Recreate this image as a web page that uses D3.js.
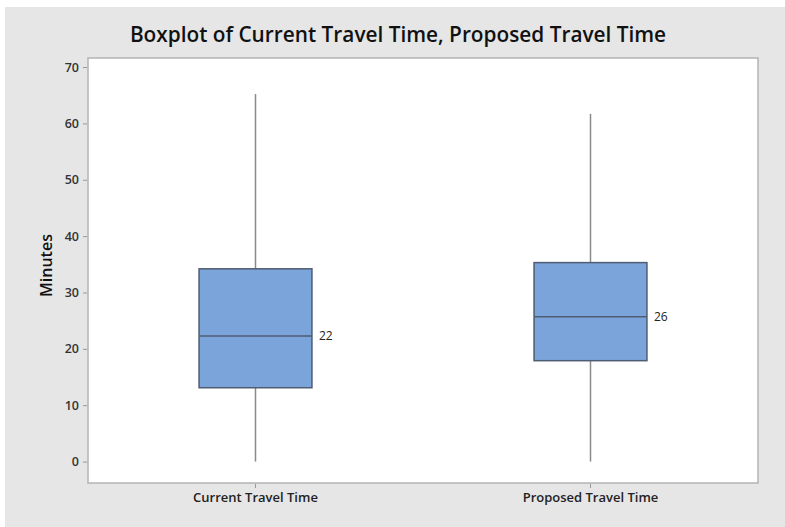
<!DOCTYPE html>
<html><head><meta charset="utf-8">
<script src="https://cdn.jsdelivr.net/npm/d3@7"></script>
<style>body{margin:0;background:#fff}svg{display:block}</style>
</head><body>
<svg id="c" width="785" height="527"></svg>
<script>
const categories = ["Current Travel Time", "Proposed Travel Time"];
const whiskerLow = [0, 0];
const q1 = [13.1, 17.9];
const medians = [22.3, 25.7];
const q3 = [34.2, 35.3];
const whiskerHigh = [65.2, 61.7];
const medianLabels = ["22", "26"];
const yTicks = [0, 10, 20, 30, 40, 50, 60, 70];

const svg = d3.select("#c");
const W = 785, H = 527;
const plot = {l: 88, r: 758, t: 58, b: 483};

svg.append("rect").attr("x", 5).attr("y", 7).attr("width", W - 5).attr("height", H - 7).attr("fill", "#e6e6e6");
svg.append("rect").attr("x", plot.l).attr("y", plot.t).attr("width", plot.r - plot.l).attr("height", plot.b - plot.t)
  .attr("fill", "#fff").attr("stroke", "#b4b4b4").attr("stroke-width", 1.5);

const x = d3.scaleBand().domain(categories).range([plot.l, plot.r]);
const y = d3.scaleLinear().domain([-3.8, 71.6]).range([plot.b, plot.t]);
const boxW = x.step() * 0.337;

// axes
const yAxis = d3.axisLeft(y).tickValues(yTicks).tickSize(4).tickPadding(4);
const gy = svg.append("g").attr("transform", `translate(${plot.l - 1},0)`).call(yAxis);
gy.select(".domain").remove();
gy.selectAll(".tick line").attr("stroke", "#999");
gy.selectAll("text").attr("font-family", "Open Sans, sans-serif").attr("font-size", 12.5).attr("font-weight", 600).attr("fill", "#333");

const xAxis = d3.axisBottom(x).tickSize(4).tickPadding(5);
const gx = svg.append("g").attr("transform", `translate(0,${plot.b + 1})`).call(xAxis);
gx.select(".domain").remove();
gx.selectAll(".tick line").attr("stroke", "#999");
gx.selectAll("text").attr("font-family", "Open Sans, sans-serif").attr("font-size", 13).attr("font-weight", 600).attr("fill", "#222");

// boxes
const data = categories.map((c, i) => ({c, lo: whiskerLow[i], q1: q1[i], med: medians[i], q3: q3[i], hi: whiskerHigh[i], lab: medianLabels[i]}));
const g = svg.append("g").selectAll("g").data(data).join("g");
const cx = d => x(d.c) + x.bandwidth() / 2;
g.append("line").attr("x1", cx).attr("x2", cx).attr("y1", d => y(d.q3)).attr("y2", d => y(d.hi)).attr("stroke", "#8a8a8a").attr("stroke-width", 1.5);
g.append("line").attr("x1", cx).attr("x2", cx).attr("y1", d => y(d.lo)).attr("y2", d => y(d.q1)).attr("stroke", "#8a8a8a").attr("stroke-width", 1.5);
g.append("rect").attr("x", d => cx(d) - boxW / 2).attr("width", boxW)
  .attr("y", d => y(d.q3)).attr("height", d => y(d.q1) - y(d.q3))
  .attr("fill", "#7ba4db").attr("stroke", "#4f5d72").attr("stroke-width", 1.5);
g.append("line").attr("x1", d => cx(d) - boxW / 2).attr("x2", d => cx(d) + boxW / 2)
  .attr("y1", d => y(d.med)).attr("y2", d => y(d.med)).attr("stroke", "#4f5d72").attr("stroke-width", 1.5);
g.append("text").attr("x", d => cx(d) + boxW / 2 + 7).attr("y", d => y(d.med) + 4)
  .attr("font-family", "Open Sans, sans-serif").attr("font-size", 12).attr("fill", "#222").text(d => d.lab);

// title
svg.append("text").attr("x", 398).attr("y", 42).attr("text-anchor", "middle")
  .attr("font-family", "Open Sans, sans-serif").attr("font-size", 20.8).attr("font-weight", 600).attr("fill", "#111")
  .text("Boxplot of Current Travel Time, Proposed Travel Time");
svg.append("text").attr("transform", `translate(52,${(plot.t + plot.b) / 2 - 5}) rotate(-90)`).attr("text-anchor", "middle")
  .attr("font-family", "Open Sans, sans-serif").attr("font-size", 16).attr("font-weight", 600).attr("fill", "#111")
  .text("Minutes");
</script>
</body></html>
